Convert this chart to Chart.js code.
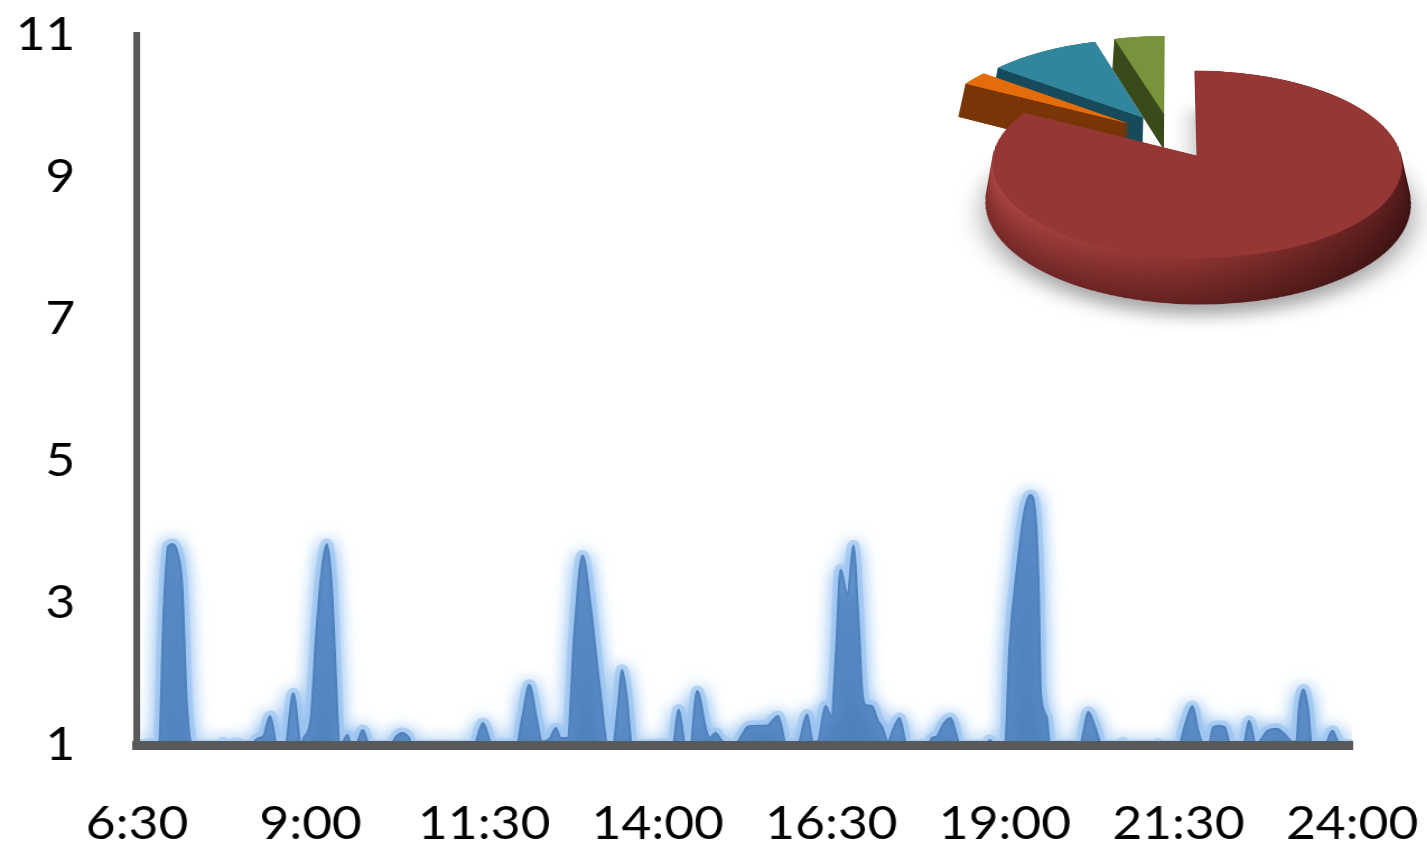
<!DOCTYPE html>
<html>
<head>
<meta charset="utf-8">
<script src="https://cdn.jsdelivr.net/npm/chart.js@4.4.1/dist/chart.umd.min.js"></script>
<style>
  html, body { margin: 0; padding: 0; background: #fff; overflow: hidden; width: 1427px; height: 852px; }
  #stage { position: absolute; left: 0; top: 0; width: 1274px; height: 852px; transform: scaleX(1.1202); transform-origin: 0 0; }
  #pie { position: absolute; left: 901px; top: -134px; transform-origin: 270px 270px;
         transform: perspective(2000px) rotateX(63.5deg); }
</style>
</head>
<body>
<div id="stage"><canvas id="area" width="1274" height="852"></canvas></div>
<canvas id="pie" width="540" height="700"></canvas>
<script>
// Activity over the day, sampled at irregular minute marks (minutes since midnight)
const minutes = [390,406,409,413,417,421,425,429,433,438,462,464,469,475,483,490,495,499,505,511,
  518,525,532,534,540,545,550,554,558,561,563,565,568,572,575,579,585,591,609,614,619,625,628,
  681,689,697,704,718,723,729,735,740,747,752,756,762,768,775,782,790,797,801,806,809,813,818,
  851,853,858,864,868,874,882,885,890,896,907,913,918,928,934,944,951,961,969,974,978,985,990,
  994,998,1004,1009,1013,1017,1020,1025,1030,1034,1039,1043,1049,1054,1058,1074,1077,1081,1087,
  1093,1098,1101,1123,1127,1132,1140,1144,1151,1157,1162,1166,1169,1171,1176,1179,1205,1208,1212,
  1218,1224,1240,1242,1246,1270,1272,1276,1290,1296,1302,1307,1312,1316,1320,1325,1330,1335,1346,
  1351,1357,1360,1367,1375,1382,1388,1392,1394,1398,1402,1405,1417,1423,1428,1440];
const values = [1.0,1.02,1.0,2.86,3.8,3.83,3.7,3.25,1.6,1.0,1.0,1.04,1.0,1.03,1.0,1.03,1.1,1.12,1.41,1.0,
  1.0,1.73,1.0,1.1,1.35,2.6,3.5,3.83,3.3,2.3,1.5,1.0,1.05,1.14,1.0,1.0,1.21,1.0,1.0,1.12,1.17,1.1,1.0,
  1.0,1.31,1.0,1.02,1.02,1.4,1.85,1.4,1.05,1.1,1.24,1.1,1.1,2.6,3.67,2.95,1.8,1.0,1.0,1.6,2.06,1.7,1.0,
  1.02,1.0,1.5,1.0,1.0,1.76,1.2,1.1,1.17,1.05,1.02,1.15,1.26,1.27,1.27,1.41,1.02,1.02,1.43,1.05,1.05,1.55,1.4,
  2.3,3.47,3.1,3.81,2.9,1.7,1.56,1.55,1.35,1.25,1.05,1.2,1.38,1.05,1.0,1.02,1.1,1.12,1.3,
  1.38,1.15,1.0,1.0,1.07,1.0,1.0,2.4,3.57,4.3,4.52,4.3,3.3,1.73,1.4,1.0,1.0,1.2,1.47,
  1.25,1.0,1.0,1.04,1.0,1.0,1.02,1.0,1.0,1.3,1.55,1.2,1.0,1.0,1.25,1.27,1.25,1.0,1.0,
  1.34,1.0,1.05,1.2,1.23,1.15,1.05,1.05,1.5,1.78,1.5,1.03,1.03,1.2,1.05,1.0];

const timeLabels = ['6:30','9:00','11:30','14:00','16:30','19:00','21:30','24:00'];
const valueTicks = [1, 3, 5, 7, 9, 11];

// Share breakdown shown in the inset pie
const shares = [83, 2.5, 10, 4.5];

const toMinutes = s => { const [h, m] = s.split(':').map(Number); return h * 60 + m; };
const tickMinutes = timeLabels.map(toMinutes);

const AXIS = '#595959';
const BLUE = '#4F81BD';
const HALO = 'rgba(158,198,240,0.7)';
const FONT = { family: 'Lato', size: 46 };

// soft light-blue glow behind the filled area
const glow = {
  id: 'glow',
  beforeDatasetsDraw(chart) {
    const c = chart.ctx;
    c.save();
    c.shadowColor = 'rgba(150,192,240,1)';
    c.shadowBlur = 16;
  },
  afterDatasetsDraw(chart) { chart.ctx.restore(); }
};

const points = minutes.map((m, i) => ({ x: m, y: values[i] }));
const common = { data: points, fill: 'start', pointRadius: 0, cubicInterpolationMode: 'monotone' };

new Chart(document.getElementById('area'), {
  type: 'line',
  data: {
    datasets: [
      // the solid area (drawn last, on top)
      Object.assign({}, common, { backgroundColor: BLUE, borderColor: BLUE, borderWidth: 2, order: 0 }),
      // wide pale pass underneath that forms the halo
      Object.assign({}, common, { backgroundColor: HALO, borderColor: HALO, borderWidth: 11, order: 1 })
    ]
  },
  options: {
    responsive: false,
    animation: false,
    devicePixelRatio: 1,
    events: [],
    layout: { padding: { top: 35, right: 67, bottom: 0, left: 0 } },
    plugins: {
      legend: { display: false },
      tooltip: { enabled: false },
      filler: { drawTime: 'beforeDatasetDraw' }
    },
    scales: {
      x: {
        type: 'linear',
        min: tickMinutes[0],
        max: tickMinutes[tickMinutes.length - 1],
        grid: { display: false, drawTicks: false },
        border: { color: AXIS, width: 9, z: 1 },
        ticks: {
          font: FONT, color: '#000', padding: 52,
          maxRotation: 0, autoSkip: false,
          callback: (v, i) => timeLabels[i]
        },
        afterBuildTicks: s => { s.ticks = tickMinutes.map(v => ({ value: v })); },
        afterFit: s => { s.height = 107; s.paddingLeft = 0; s.paddingRight = 0; }
      },
      y: {
        min: valueTicks[0],
        max: valueTicks[valueTicks.length - 1],
        grid: { display: false, drawTicks: false },
        border: { color: AXIS, width: 6, z: 1 },
        ticks: { font: FONT, color: '#000', padding: 55 },
        afterBuildTicks: s => { s.ticks = valueTicks.map(v => ({ value: v })); },
        afterFit: s => { s.width = 122.3; s.paddingTop = 0; s.paddingBottom = 0; }
      }
    }
  },
  plugins: [glow]
});

// ---- inset pie: exploded slices with an extruded rim ----
const faceColors = ['#953735', '#E46C0A', '#31859C', '#77933C'];
const sideColors = [null, '#7a3608', '#174a5b', '#3b4b1c'];
const drawOrder = [3, 2, 1, 0];   // back slices first, large front slice last
const EXPLODE = 50;
const DEPTH = 80;

const mix = (a, b, t) => a.map((v, k) => Math.round(v + (b[k] - v) * t));
const rgb = a => `rgb(${a[0]},${a[1]},${a[2]})`;

function sideFill(ctx, idx, i, cx) {
  if (idx !== 0) return sideColors[idx];
  const t = i / DEPTH;
  const g = ctx.createLinearGradient(cx - 210, 0, cx + 230, 0);
  g.addColorStop(0, rgb(mix([172, 70, 68], [120, 41, 40], t)));
  g.addColorStop(0.45, rgb(mix([142, 52, 50], [98, 33, 32], t)));
  g.addColorStop(1, rgb(mix([80, 25, 25], [52, 16, 16], t)));
  return g;
}

const pie3d = {
  id: 'pie3d',
  beforeDatasetDraw() { return false; },
  afterDatasetsDraw(chart) {
    const ctx = chart.ctx;
    const arcs = chart.getDatasetMeta(0).data;
    const paint = (arc, fill, dx, dy) => {
      const saved = arc.options;
      arc.options = Object.assign({}, saved, { backgroundColor: fill, borderWidth: 0, offset: 0 });
      ctx.save();
      ctx.translate(dx, dy);
      arc.draw(ctx);
      ctx.restore();
      arc.options = saved;
    };
    drawOrder.forEach(idx => {
      const arc = arcs[idx];
      const mid = (arc.startAngle + arc.endAngle) / 2;
      const dx = Math.cos(mid) * EXPLODE;
      const dy = Math.sin(mid) * EXPLODE;
      for (let i = DEPTH; i >= 1; i--) {
        ctx.save();
        if (i === DEPTH && idx === 0) {
          ctx.shadowColor = 'rgba(0,0,0,0.35)';
          ctx.shadowBlur = 26;
          ctx.shadowOffsetY = 18;
        }
        paint(arc, sideFill(ctx, idx, i, arc.x), dx, dy + i);
        ctx.restore();
      }
      paint(arc, faceColors[idx], dx, dy);
    });
  }
};

new Chart(document.getElementById('pie'), {
  type: 'pie',
  data: { datasets: [{ data: shares, backgroundColor: faceColors, borderWidth: 0 }] },
  options: {
    responsive: false,
    animation: false,
    devicePixelRatio: 1,
    events: [],
    radius: 200,
    layout: { padding: { bottom: 160 } },
    plugins: { legend: { display: false }, tooltip: { enabled: false } }
  },
  plugins: [pie3d]
});
</script>
</body>
</html>
